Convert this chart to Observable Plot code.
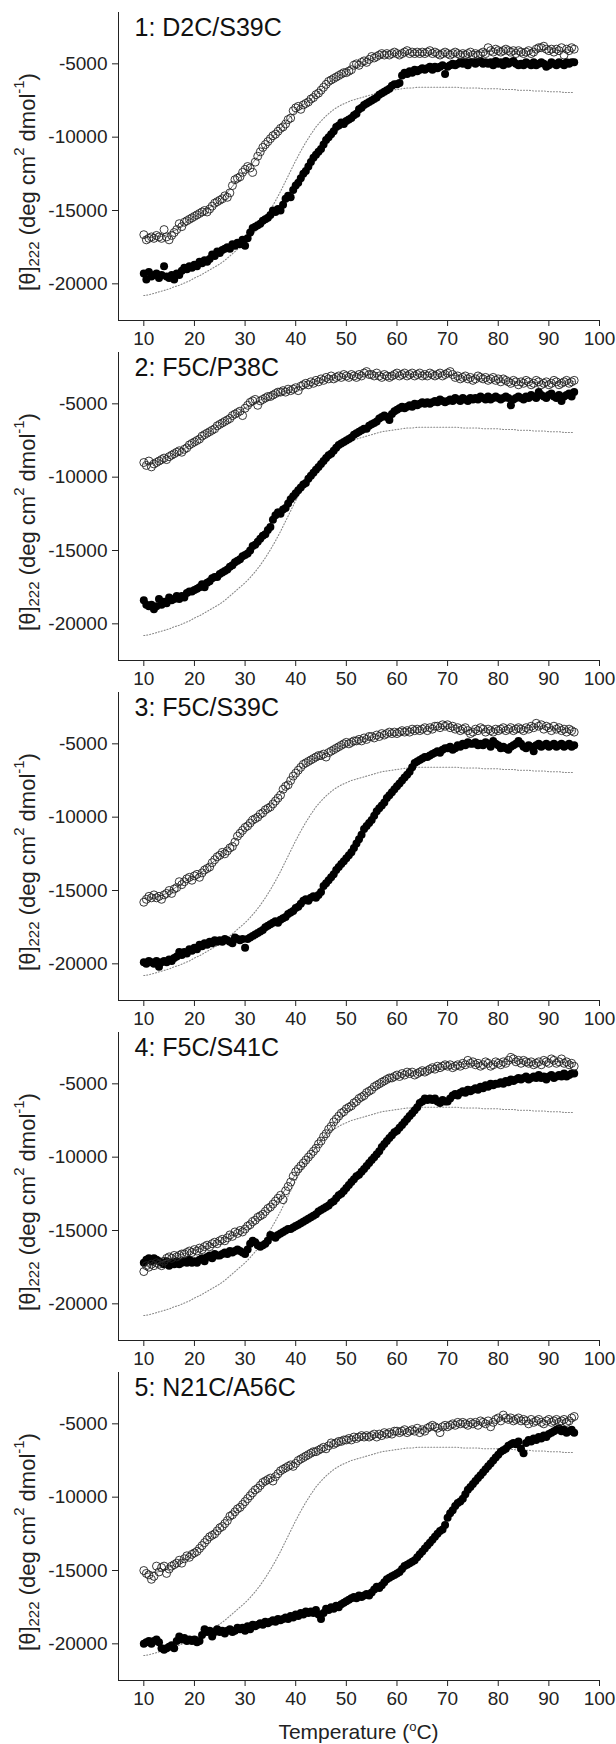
<!DOCTYPE html>
<html><head><meta charset="utf-8">
<script src="https://cdn.jsdelivr.net/npm/d3@7"></script>
<script src="https://cdn.jsdelivr.net/npm/@observablehq/plot@0.6"></script>
<style>
body{margin:0;background:#fff;font-family:"Liberation Sans",Arial,sans-serif;}
#chart{width:616px;padding-top:6px;}
#chart svg{display:block;}
.xlabel{width:616px;box-sizing:border-box;padding-left:118px;padding-right:17px;text-align:center;font-size:21px;line-height:24px;color:#222;margin-top:14px;}
.xlabel .sup{font-size:13px;vertical-align:8px;line-height:0;}
</style></head><body><div id="chart"></div>
<script>
const titles = ["1: D2C/S39C", "2: F5C/P38C", "3: F5C/S39C", "4: F5C/S41C", "5: N21C/A56C"];
const xTicks = [10, 20, 30, 40, 50, 60, 70, 80, 90, 100];
const yTicks = [-20000, -15000, -10000, -5000];
// temperatures of the data points: 10 to 95 degC every 0.5 degC
const temps = d3.range(10, 95.01, 0.5);
// temperatures of the dotted reference curve: 10 to 95 every 1 degC
const refTemps = d3.range(10, 95.01, 1);

const filled1 = [-19300,-19700,-19200,-19500,-19400,-19300,-19600,-19400,-18800,-19500,
-19600,-19400,-19700,-19300,-19400,-19100,-18900,-19000,-18800,-18900,
-18700,-18800,-18500,-18600,-18400,-18500,-18300,-18000,-18100,-17800,
-17900,-17700,-17600,-17500,-17600,-17300,-17400,-17200,-17300,-17000,
-17400,-16900,-16500,-16200,-16100,-16000,-15900,-15700,-15600,-15500,
-15300,-15000,-15100,-14900,-15000,-14600,-14200,-14000,-14100,-13600,
-13300,-13100,-12800,-12500,-12300,-12000,-11700,-11400,-11200,-11000,
-10800,-10500,-10200,-10000,-9800,-9600,-9300,-9200,-9000,-9100,
-8900,-8800,-8700,-8500,-8400,-8100,-8000,-7800,-7700,-7600,
-7500,-7400,-7300,-7100,-7000,-6900,-6800,-6700,-6500,-6400,
-6400,-6300,-5800,-5600,-5700,-5500,-5600,-5400,-5500,-5400,
-5300,-5400,-5300,-5200,-5400,-5200,-5300,-5200,-5100,-5700,
-5200,-5100,-5000,-5100,-5000,-4900,-5000,-4900,-5100,-4900,
-4900,-5000,-4900,-4800,-5000,-4900,-5000,-4900,-5100,-4800,
-5000,-4900,-5100,-4800,-5000,-4900,-4800,-5000,-5100,-5000,
-5100,-4900,-5000,-5100,-4900,-5100,-5000,-4900,-5000,-5200,
-5100,-4900,-5000,-5100,-4900,-5000,-5100,-4900,-5000,-4900,
-4900];
const open1 = [-16650,-17000,-16900,-16800,-16900,-16700,-16800,-16900,-16300,-16800,
-17000,-16700,-16500,-16300,-15900,-16100,-15800,-15700,-15600,-15500,
-15400,-15300,-15200,-15100,-15000,-15100,-14900,-14700,-14500,-14400,
-14300,-14200,-14000,-14100,-13800,-13300,-12900,-12800,-12700,-12400,
-12200,-12000,-12100,-12400,-11700,-11300,-11000,-10700,-10500,-10300,
-10100,-9900,-9800,-9600,-9400,-9300,-9100,-8800,-8700,-8200,
-8000,-7900,-8100,-7800,-7700,-7600,-7400,-7300,-7100,-7000,
-6800,-6600,-6400,-6200,-6100,-6000,-5900,-5800,-5700,-5600,
-5600,-5500,-5400,-5100,-5000,-5100,-4900,-4800,-4900,-4700,
-4500,-4600,-4500,-4400,-4300,-4400,-4300,-4400,-4300,-4200,
-4300,-4400,-4300,-4200,-4100,-4300,-4200,-4300,-4200,-4300,
-4200,-4300,-4200,-4100,-4300,-4200,-4300,-4400,-4300,-4200,
-4300,-4400,-4300,-4200,-4300,-4400,-4300,-4400,-4300,-4200,
-4400,-4300,-4400,-4300,-4200,-4300,-3900,-4100,-4200,-4000,
-4100,-4200,-4100,-4000,-4100,-4200,-4100,-4300,-4100,-4200,
-4300,-4200,-4100,-4300,-4200,-4000,-3900,-3900,-3800,-4000,
-4100,-4000,-4200,-4000,-4100,-3900,-4400,-4000,-4100,-3900,
-4000];
const filled2 = [-18400,-18700,-18800,-18700,-19000,-18800,-18300,-18700,-18500,-18600,
-18200,-18400,-18300,-18100,-18300,-18100,-18200,-17900,-17800,-17800,
-17700,-17600,-17500,-17300,-17500,-17200,-17100,-16900,-16800,-16800,
-16600,-16500,-16400,-16300,-16100,-16000,-15800,-15700,-15600,-15400,
-15300,-15200,-15000,-14700,-14600,-14400,-14200,-14000,-13900,-13600,
-13400,-12900,-12600,-12400,-12500,-12200,-12100,-11800,-11500,-11300,
-11100,-10900,-10700,-10500,-10400,-10100,-9900,-9700,-9500,-9300,
-9100,-8900,-8700,-8500,-8400,-8200,-8000,-7800,-7700,-7600,
-7500,-7400,-7300,-7100,-7000,-6900,-6800,-6700,-6700,-6500,
-6400,-6300,-6200,-6000,-5900,-5800,-5900,-6100,-5700,-5500,
-5400,-5300,-5200,-5300,-5200,-5100,-5200,-5000,-5100,-5000,
-4900,-5000,-4900,-5000,-4900,-4800,-4900,-4700,-4800,-4900,
-4800,-4700,-4800,-4600,-4700,-4800,-4600,-4700,-4800,-4600,
-4700,-4600,-4700,-4500,-4600,-4700,-4500,-4700,-4600,-4500,
-4600,-4700,-4600,-4500,-4600,-5100,-4700,-4600,-4500,-4600,
-4700,-4500,-4600,-4400,-4500,-4600,-4200,-4400,-4500,-4600,
-4400,-4300,-4500,-4600,-4400,-4800,-4500,-4400,-4300,-4500,
-4200];
const open2 = [-9000,-9200,-8900,-9300,-9100,-9000,-8900,-8800,-8700,-8800,
-8600,-8500,-8400,-8300,-8200,-8300,-8100,-8000,-7800,-7700,
-7600,-7500,-7400,-7200,-7100,-7000,-6900,-6800,-6700,-6500,
-6400,-6300,-6200,-6100,-6000,-5800,-5700,-5600,-5500,-5800,
-5300,-5100,-4900,-4800,-4700,-5100,-4800,-4700,-4600,-4500,
-4500,-4400,-4300,-4200,-4200,-4100,-4200,-4000,-4100,-4000,
-3900,-4100,-3800,-3700,-3600,-3700,-3500,-3600,-3400,-3500,
-3300,-3400,-3200,-3300,-3100,-3300,-3200,-3100,-3200,-3000,
-3100,-3200,-3000,-3100,-3200,-3000,-3100,-2900,-2800,-3000,
-3000,-3100,-2900,-3100,-3200,-3000,-3100,-3200,-3100,-3000,
-2900,-3100,-3000,-2900,-3100,-3000,-2900,-3100,-3000,-2900,
-3100,-3000,-3100,-2900,-3000,-3100,-3000,-2900,-3100,-3000,
-2900,-2800,-3000,-3200,-3100,-3300,-3200,-3100,-3300,-3200,
-3400,-3300,-3100,-3200,-3300,-3200,-3400,-3300,-3200,-3400,
-3300,-3500,-3300,-3400,-3500,-3600,-3400,-3500,-3700,-3500,
-3600,-3400,-3500,-3700,-3600,-3400,-3500,-3700,-3600,-3500,
-3700,-3600,-3400,-3500,-3700,-3600,-3500,-3400,-3600,-3500,
-3400];
const filled3 = [-19900,-20000,-19800,-19900,-20000,-19800,-20200,-19900,-19800,-19900,
-19700,-19800,-19600,-19500,-19200,-19400,-19200,-19300,-19000,-19100,
-18900,-19000,-18700,-18800,-18600,-18700,-18500,-18600,-18400,-18500,
-18400,-18500,-18300,-18400,-18500,-18600,-18200,-18300,-18400,-18300,
-18900,-18300,-18200,-18100,-18000,-17900,-17800,-17700,-17500,-17400,
-17300,-17200,-17100,-17200,-17000,-16900,-16800,-16600,-16500,-16400,
-16200,-16100,-15900,-15700,-15600,-15700,-15500,-15400,-15500,-15300,
-15100,-14700,-14500,-14300,-14100,-13900,-13600,-13400,-13200,-13000,
-12800,-12600,-12400,-12100,-11800,-11500,-11200,-10800,-10600,-10400,
-10200,-9900,-9600,-9400,-9200,-9000,-8700,-8500,-8300,-8100,
-7900,-7700,-7500,-7300,-7100,-6900,-6600,-6300,-6200,-6100,
-6000,-5900,-5900,-5800,-5700,-5600,-5500,-5600,-5400,-5300,
-5300,-5200,-5400,-5300,-5100,-5200,-5000,-5100,-4900,-5000,
-5000,-4900,-5100,-5000,-5100,-4900,-5000,-5200,-4800,-5000,
-5100,-5300,-5200,-5300,-5400,-5200,-5100,-5000,-4800,-5000,
-5200,-5300,-5100,-5200,-5500,-5100,-5000,-5200,-5100,-5000,
-5200,-5100,-5000,-5200,-5100,-5000,-5200,-5100,-5000,-5200,
-5100];
const open3 = [-15800,-15600,-15400,-15500,-15300,-15500,-15400,-15600,-15300,-15200,
-15000,-15200,-14900,-14800,-14400,-14600,-14400,-14200,-14100,-14300,
-14000,-13900,-14100,-13800,-13600,-13500,-13400,-13100,-12900,-12700,
-12600,-12400,-12500,-12300,-12100,-12000,-11700,-11300,-11100,-10900,
-10700,-10600,-10400,-10200,-10100,-10000,-9800,-9700,-9500,-9400,
-9300,-9100,-8900,-8700,-8500,-8100,-7900,-7800,-7500,-7200,
-7000,-6800,-6600,-6400,-6300,-6200,-6100,-6000,-5900,-5800,
-5800,-5700,-5900,-5600,-5500,-5400,-5300,-5200,-5100,-5000,
-4900,-5000,-4900,-4800,-4800,-4700,-4800,-4600,-4700,-4500,
-4500,-4600,-4400,-4500,-4300,-4400,-4300,-4200,-4300,-4200,
-4300,-4200,-4100,-4200,-4100,-4200,-4000,-4100,-4000,-4100,
-4000,-3900,-4100,-3900,-4000,-3800,-3800,-3900,-3700,-3800,
-3700,-3900,-3800,-4000,-3900,-4100,-4000,-3900,-4100,-4300,
-4200,-4000,-4100,-3900,-4000,-4200,-4000,-4100,-4200,-4000,
-4100,-4000,-3900,-4100,-4000,-3900,-4100,-4000,-3900,-4000,
-4100,-3900,-4000,-3800,-3900,-3600,-3800,-3700,-4000,-3800,
-3900,-4100,-3800,-4000,-3900,-4100,-4000,-4200,-4000,-4100,
-4200];
const filled4 = [-17200,-17000,-16900,-17100,-16900,-17000,-17100,-17200,-17300,-17100,
-17400,-17200,-17300,-17100,-17300,-17200,-17100,-17200,-17000,-17200,
-17100,-17200,-17000,-16900,-17100,-16800,-16700,-16900,-16600,-16700,
-16700,-16600,-16500,-16600,-16400,-16500,-16400,-16300,-16400,-16500,
-16600,-16300,-15900,-15700,-15800,-16000,-16100,-16000,-15900,-15700,
-15300,-15400,-15500,-15300,-15200,-15100,-15000,-14900,-14900,-14800,
-14700,-14600,-14500,-14400,-14300,-14200,-14100,-14000,-13900,-13700,
-13600,-13500,-13400,-13300,-13100,-13000,-12800,-12600,-12500,-12300,
-12100,-11900,-11700,-11500,-11300,-11200,-11000,-10800,-10600,-10400,
-10200,-10000,-9800,-9600,-9300,-9100,-8900,-8700,-8500,-8300,
-8200,-8000,-7800,-7600,-7400,-7200,-7000,-6800,-6600,-6300,
-6200,-6000,-6100,-6000,-6100,-6000,-6200,-6300,-6100,-6200,
-6200,-6000,-5800,-5700,-5800,-5600,-5500,-5600,-5400,-5500,
-5400,-5300,-5400,-5200,-5300,-5100,-5200,-5000,-5100,-5000,
-5000,-4900,-5000,-4800,-4900,-4700,-4800,-4700,-4600,-4700,
-4600,-4500,-4700,-4600,-4500,-4600,-4400,-4600,-4500,-4700,
-4500,-4400,-4600,-4500,-4400,-4500,-4300,-4500,-4400,-4300,
-4300];
const open4 = [-17800,-17400,-17500,-17300,-17400,-17200,-17300,-17400,-17100,-16900,
-16800,-16900,-16700,-16800,-16700,-16600,-16600,-16500,-16400,-16500,
-16300,-16400,-16200,-16300,-16100,-16000,-16100,-15900,-15800,-15900,
-15700,-15600,-15700,-15500,-15300,-15400,-15100,-15200,-15000,-15100,
-14900,-14700,-14600,-14400,-14300,-14100,-14000,-13900,-13700,-13500,
-13400,-13200,-13000,-12800,-12600,-12900,-12300,-12000,-11700,-11300,
-11000,-10800,-10600,-10400,-10200,-10000,-9800,-9600,-9400,-9100,
-8900,-8600,-8400,-8100,-7900,-7600,-7400,-7200,-7000,-6900,
-6700,-6600,-6500,-6300,-6200,-6000,-5900,-5800,-5600,-5500,
-5400,-5200,-5100,-5000,-4900,-4800,-4700,-4600,-4600,-4500,
-4400,-4500,-4300,-4400,-4200,-4300,-4200,-4400,-4300,-4200,
-4100,-4200,-4100,-4000,-3900,-4000,-3800,-3900,-3800,-3700,
-3800,-3700,-3900,-3800,-3700,-3800,-3600,-3700,-3400,-3600,
-3500,-3700,-3600,-3800,-3700,-3500,-3600,-3800,-3700,-3500,
-3600,-3700,-3500,-3600,-3400,-3200,-3300,-3500,-3400,-3600,
-3400,-3500,-3600,-3500,-3700,-3600,-3500,-3700,-3400,-3500,
-3600,-3300,-3400,-3600,-3500,-3300,-3600,-3500,-3700,-3600,
-3800];
const filled5 = [-20000,-19900,-19800,-20000,-19800,-19700,-19900,-20300,-20400,-20300,
-20200,-20100,-20300,-19800,-19500,-19700,-19600,-19800,-19700,-19800,
-19700,-19900,-19800,-19400,-19000,-19200,-19100,-19500,-19200,-19000,
-19200,-19100,-19300,-19100,-19000,-19200,-19100,-18900,-19000,-18900,
-19100,-18800,-19000,-18700,-18800,-18700,-18600,-18700,-18500,-18600,
-18500,-18400,-18500,-18300,-18400,-18300,-18200,-18300,-18100,-18200,
-18000,-18100,-17900,-18000,-17800,-17900,-17800,-17900,-17700,-18000,
-18300,-17900,-17600,-17700,-17500,-17600,-17400,-17500,-17300,-17200,
-17100,-17000,-16900,-16800,-16900,-16700,-16800,-16700,-16600,-16700,
-16500,-16300,-16100,-16200,-16000,-15800,-15600,-15500,-15400,-15300,
-15200,-15100,-14900,-14700,-14600,-14500,-14400,-14300,-14100,-13900,
-13700,-13500,-13300,-13100,-12900,-12700,-12500,-12300,-12200,-11900,
-11400,-11100,-10900,-10600,-10400,-10300,-10100,-9800,-9500,-9300,
-9100,-8900,-8700,-8500,-8300,-8100,-7900,-7700,-7500,-7300,
-7100,-6900,-6800,-6700,-6500,-6400,-6300,-6400,-6200,-6700,
-7000,-6300,-6100,-6200,-6000,-6100,-5900,-6000,-5800,-5900,
-5700,-5600,-5500,-5400,-5300,-5500,-5400,-5600,-5500,-5400,
-5600];
const open5 = [-15000,-15200,-15300,-15600,-15400,-14700,-15100,-14800,-14700,-15200,
-14900,-14700,-14600,-14500,-14300,-14500,-14200,-14000,-14100,-13900,
-13800,-13700,-13500,-13300,-13100,-12900,-12700,-12600,-12500,-12300,
-12100,-12000,-11800,-11600,-11300,-11200,-11000,-10800,-10700,-10500,
-10300,-10100,-9900,-9700,-9500,-9400,-9200,-9000,-8900,-8800,
-8700,-8900,-8600,-8400,-8200,-8100,-8000,-7900,-7800,-7900,
-7700,-7500,-7400,-7300,-7200,-7100,-7000,-6900,-6900,-6800,
-6700,-6600,-6700,-6500,-6300,-6400,-6300,-6200,-6200,-6100,
-6100,-6000,-6100,-5900,-6000,-5900,-5800,-5900,-5800,-5900,
-5800,-5700,-5900,-5700,-5800,-5600,-5700,-5600,-5700,-5500,
-5500,-5600,-5500,-5400,-5600,-5500,-5400,-5500,-5300,-5600,
-5400,-5500,-5300,-5200,-5100,-5200,-5300,-5600,-5200,-5100,
-5200,-5100,-5000,-5100,-4900,-5000,-4900,-5000,-5100,-4900,
-5000,-4900,-5100,-4800,-4900,-5000,-4800,-5200,-4900,-4700,
-4600,-4800,-4400,-4600,-4700,-4600,-4800,-4700,-4600,-4800,
-4700,-4800,-5000,-4700,-4900,-4800,-4700,-4900,-5000,-4800,
-4700,-4900,-4800,-4700,-4900,-4800,-4700,-4900,-4800,-4600,
-4500];
// dotted reference curve, same in every panel
const reference = [-20800,-20750,-20650,-20550,-20450,-20350,-20200,-20100,-19950,-19800,
-19600,-19450,-19250,-19050,-18850,-18650,-18400,-18100,-17800,-17500,
-17200,-16850,-16450,-16000,-15500,-14950,-14350,-13700,-13000,-12300,
-11600,-10950,-10350,-9800,-9300,-8900,-8550,-8250,-8000,-7800,
-7650,-7500,-7400,-7300,-7200,-7100,-7000,-6900,-6850,-6800,
-6750,-6700,-6650,-6650,-6600,-6600,-6600,-6600,-6600,-6600,
-6600,-6600,-6600,-6650,-6650,-6650,-6650,-6700,-6700,-6700,
-6700,-6750,-6750,-6750,-6800,-6800,-6800,-6850,-6850,-6850,
-6900,-6900,-6900,-6950,-6950,-6950];

const filledSeries = [filled1, filled2, filled3, filled4, filled5];
const openSeries = [open1, open2, open3, open4, open5];

const refData = refTemps.map((T, i) => ({T, v: reference[i]}));
const chart = document.getElementById("chart");
const W = 616, H = 340, mT = 6, mB = 26, mL = 118, mR = 17;

titles.forEach((title, k) => {
  const fdata = temps.map((T, i) => ({T, v: filledSeries[k][i]}));
  const odata = temps.map((T, i) => ({T, v: openSeries[k][i]}));
  const svg = Plot.plot({
    width: W, height: H, marginLeft: mL, marginRight: mR, marginTop: mT, marginBottom: mB,
    style: {fontFamily: "'Liberation Sans', Arial, sans-serif", fontSize: "19px", color: "#222", background: "transparent", overflow: "visible"},
    x: {domain: [5, 100], ticks: xTicks, tickFormat: d => String(d), line: true, label: null, tickSize: 6, tickPadding: 5},
    y: {domain: [-22500, -1500], ticks: yTicks, tickFormat: d => String(d), line: true, label: null, tickSize: 6, tickPadding: 5},
    marks: [
      Plot.lineY(refData, {x: "T", y: "v", stroke: "#888", strokeWidth: 1.1, strokeDasharray: "1,2"}),
      Plot.dot(fdata, {x: "T", y: "v", r: 4, fill: "#000", stroke: "none"}),
      Plot.lineY(odata, Plot.windowY({k: 9}, {x: "T", y: "v", stroke: "#555", strokeWidth: 0.8})),
      Plot.dot(odata, {x: "T", y: "v", r: 4, fill: "none", stroke: "#222", strokeWidth: 0.9}),
      Plot.text([title], {frameAnchor: "top-left", dx: 16, dy: 6, lineAnchor: "top", textAnchor: "start", fontSize: 25, fill: "#111"})
    ]
  });
  // y-axis label with sub/superscripts
  const cy = mT + (H - mT - mB) / 2 + 16;
  const t = d3.select(svg).append("text")
    .attr("transform", `translate(27,${cy}) rotate(-90)`)
    .attr("text-anchor", "middle")
    .attr("dominant-baseline", "central")
    .attr("font-size", 22)
    .attr("fill", "#222");
  t.append("tspan").text("[θ]");
  t.append("tspan").attr("font-size", 15).attr("dy", 6).text("222");
  t.append("tspan").attr("dy", -6).text(" (deg cm");
  t.append("tspan").attr("font-size", 15).attr("dy", -9).text("2");
  t.append("tspan").attr("dy", 9).text(" dmol");
  t.append("tspan").attr("font-size", 15).attr("dy", -9).text("-1");
  t.append("tspan").attr("dy", 9).text(")");
  chart.appendChild(svg);
});

const xl = document.createElement("div");
xl.className = "xlabel";
xl.innerHTML = 'Temperature (<span class="sup">o</span>C)';
chart.appendChild(xl);
</script></body></html>
